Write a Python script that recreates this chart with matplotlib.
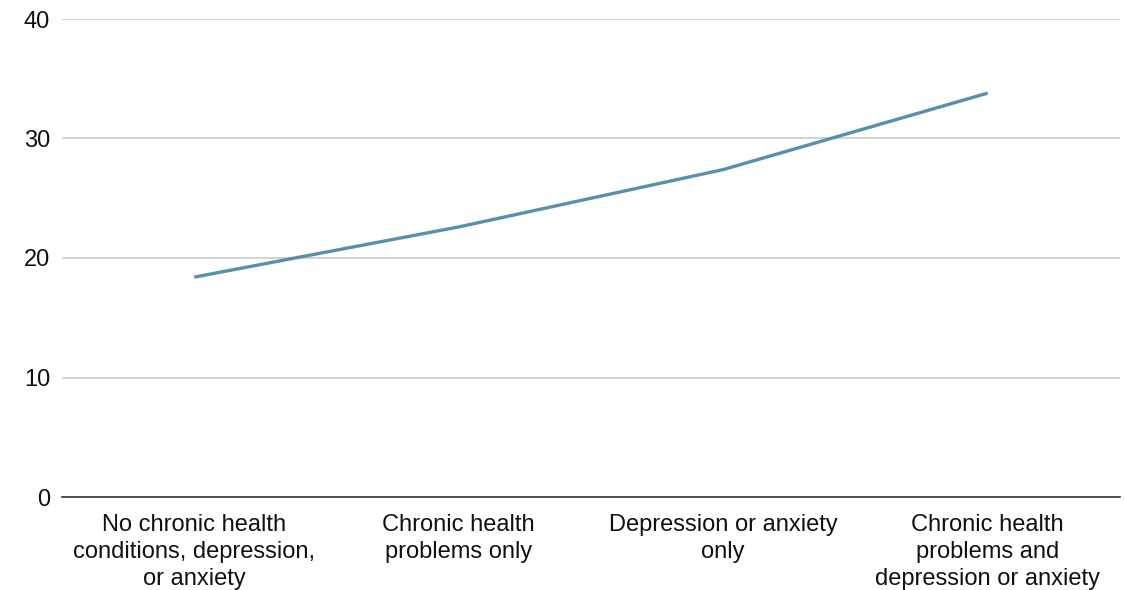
import matplotlib
matplotlib.use("Agg")
import matplotlib.pyplot as plt

categories = [
    "No chronic health\nconditions, depression,\nor anxiety",
    "Chronic health\nproblems only",
    "Depression or anxiety\nonly",
    "Chronic health\nproblems and\ndepression or anxiety",
]
values = [18.4, 22.6, 27.4, 33.8]
y_ticks = [0, 10, 20, 30, 40]

plt.rcParams["font.family"] = ["Liberation Sans", "DejaVu Sans"]

fig = plt.figure(figsize=(11.24, 5.9), dpi=100)
ax = fig.add_axes([62 / 1124, 1 - 497 / 590, (1120 - 62) / 1124, (497 - 19) / 590])

x = list(range(len(categories)))
ax.plot(x, values, color="#5a8fa9", linewidth=2.4, solid_capstyle="butt", zorder=3)

ax.set_xlim(-0.5, len(categories) - 0.5)
ax.set_ylim(0, 40)
ax.set_yticks(y_ticks)
ax.set_xticks(x)
ax.set_xticklabels(categories, fontsize=17, color="#111111", linespacing=1.3)
ax.tick_params(axis="y", labelsize=17, labelcolor="#111111", length=0, pad=8.5)
ax.tick_params(axis="x", length=0, pad=12)

ax.grid(axis="y", color="#cccccc", linewidth=1.2)
ax.set_axisbelow(True)
for side in ("top", "right", "left"):
    ax.spines[side].set_visible(False)
ax.spines["bottom"].set_color("#333333")
ax.spines["bottom"].set_linewidth(1.2)

fig.savefig("out.png", dpi=100)
